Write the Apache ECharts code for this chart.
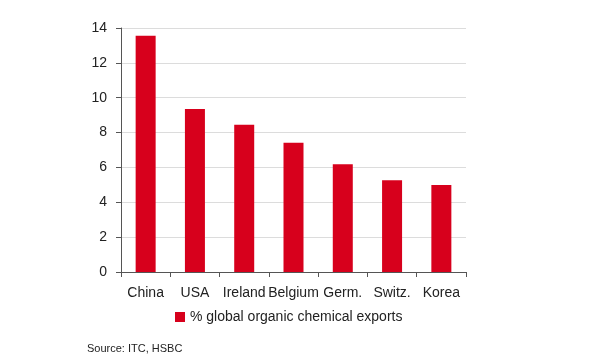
<!DOCTYPE html>
<html><head><meta charset="utf-8">
<script src="https://cdn.jsdelivr.net/npm/echarts@6/dist/echarts.min.js"></script>
<style>html,body{margin:0;padding:0;background:#fff}#c{width:600px;height:360px}</style>
</head><body><div id="c"></div>
<script>
const categories = ["China","USA","Ireland","Belgium","Germ.","Switz.","Korea"];
const values = [13.55, 9.35, 8.45, 7.42, 6.18, 5.26, 4.99];
const seriesName = "% global organic chemical exports";
const yTicks = [0, 2, 4, 6, 8, 10, 12, 14];
const sourceText = "Source: ITC, HSBC";

const chart = echarts.init(document.getElementById('c'));
const font = "'Liberation Sans', Arial, sans-serif";
chart.setOption({
  animation: false,
  textStyle: {fontFamily: font},
  grid: {left: 121, right: 134, top: 28, bottom: 88, containLabel: false},
  legend: {
    data: [seriesName], left: 170, top: 305, icon: 'rect', itemWidth: 10, itemHeight: 10, itemGap: 2,
    textStyle: {fontSize: 14, color: '#222', fontFamily: font}
  },
  graphic: [{type: 'text', left: 87, top: 343, style: {text: sourceText, fontSize: 11, fill: '#222', fontFamily: "'Liberation Sans Narrow', 'Liberation Sans', Arial, sans-serif"}}],
  xAxis: {
    type: 'category', data: categories,
    axisLine: {lineStyle: {color: '#555', width: 1}},
    axisTick: {show: true, alignWithLabel: false, length: 5, lineStyle: {color: '#555'}},
    axisLabel: {fontSize: 14, color: '#222', margin: 14, interval: 0, fontFamily: font}
  },
  yAxis: {
    type: 'value', min: yTicks[0], max: yTicks[yTicks.length-1], interval: 2,
    axisLine: {show: true, lineStyle: {color: '#555', width: 1}},
    axisTick: {show: true, length: 5, lineStyle: {color: '#555'}},
    axisLabel: {fontSize: 14, color: '#222', margin: 14, fontFamily: font},
    splitLine: {lineStyle: {color: '#dcdcdc', width: 1}}
  },
  series: [{
    name: seriesName, type: 'bar', data: values, barWidth: 20,
    itemStyle: {color: '#d7001c'}
  }]
});
</script></body></html>
